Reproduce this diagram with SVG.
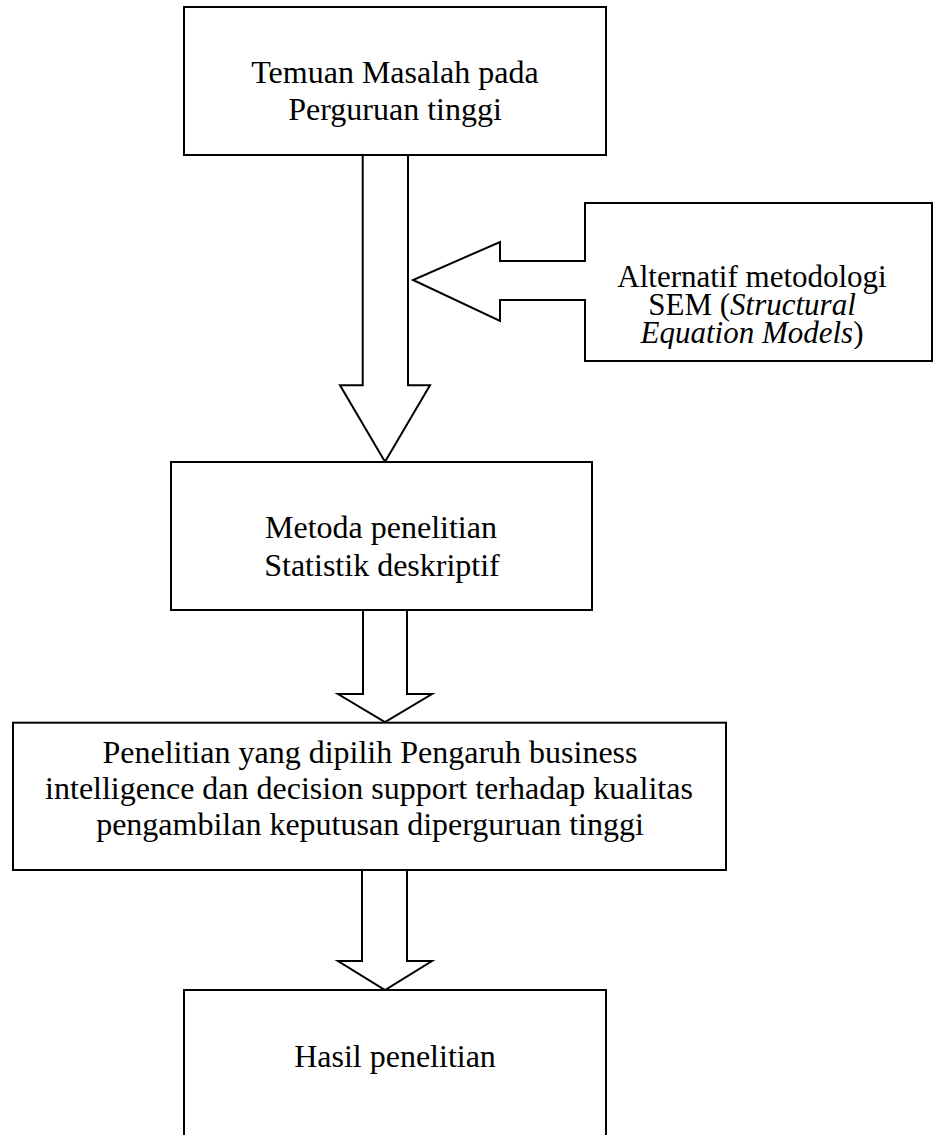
<svg xmlns="http://www.w3.org/2000/svg" width="934" height="1135" viewBox="0 0 934 1135">
<style>
.box{fill:#fff;stroke:#000;stroke-width:2}
.arr{fill:#fff;stroke:#000;stroke-width:2;stroke-linejoin:miter}
.t{font-family:"Liberation Serif","Times New Roman",serif;font-size:32px;fill:#000;text-anchor:middle}
.c{font-size:31px}
.i{font-style:italic}
</style>
<defs>
<clipPath id="calloutClip"><rect x="586" y="204" width="345" height="145"/></clipPath>
</defs>
<rect width="934" height="1135" fill="#fff"/>
<g id="connectors">
<path class="arr" d="M362.7,155 H408 V385.3 H430 L385,461.7 L340,385.3 H362.7 Z"/>
<path class="arr" d="M363,610 H407 V694 H432 L385,722 L338,694 H363 Z"/>
<path class="arr" d="M362,870 H407 V961 H432 L385,990 L338,961 H362 Z"/>
</g>
<g id="node-temuan">
<rect class="box" x="184" y="7" width="422" height="148"/>
<text class="t" x="395" y="83">Temuan Masalah pada</text>
<text class="t" x="395" y="120">Perguruan tinggi</text>
</g>
<g id="node-alternatif">
<path class="box" d="M585,203 H932 V361 H585 V300 H500 V321 L413,280 L500,242 V261 H585 Z"/>
<g clip-path="url(#calloutClip)">
<text class="t c" x="752" y="287">Alternatif metodologi</text>
<text class="t c" x="752" y="315">SEM (<tspan class="i">Structural</tspan></text>
<text class="t c" x="752" y="343"><tspan class="i">Equation Models</tspan>)</text>
</g>
</g>
<g id="node-metoda">
<rect class="box" x="171" y="462" width="421" height="148"/>
<text class="t" x="381" y="538">Metoda penelitian</text>
<text class="t" x="382" y="576">Statistik deskriptif</text>
</g>
<g id="node-penelitian">
<rect class="box" x="13" y="722.7" width="713" height="147.3"/>
<text class="t" x="370" y="763">Penelitian yang dipilih Pengaruh business</text>
<text class="t" x="369" y="799">intelligence dan decision support terhadap kualitas</text>
<text class="t" x="370" y="835">pengambilan keputusan diperguruan tinggi</text>
</g>
<g id="node-hasil">
<rect class="box" x="184" y="990" width="422" height="160"/>
<text class="t" x="395" y="1067">Hasil penelitian</text>
</g>
</svg>
